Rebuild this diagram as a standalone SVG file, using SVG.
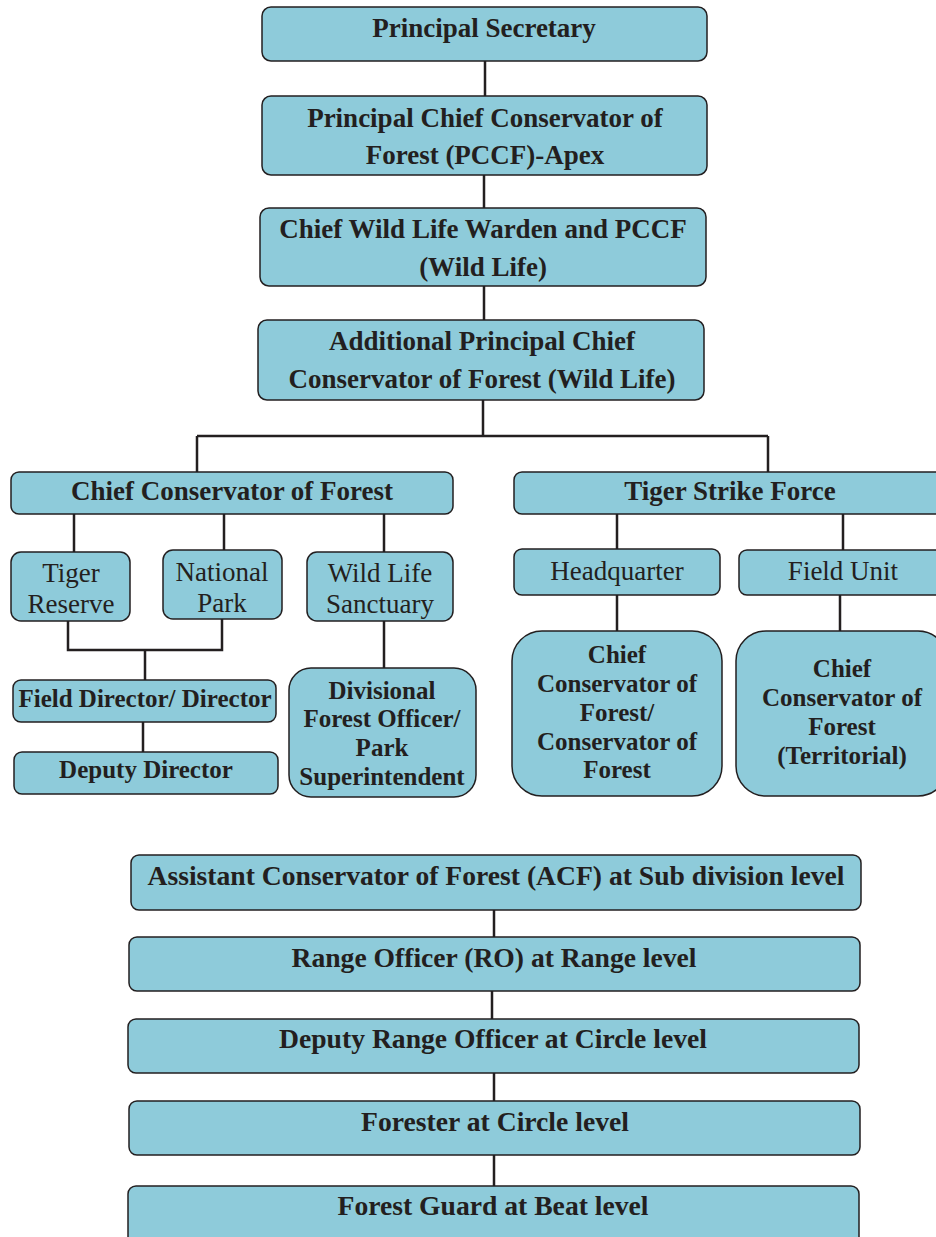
<svg xmlns="http://www.w3.org/2000/svg" width="936" height="1237" viewBox="0 0 936 1237">
<style>
.b{fill:#8ecbda;stroke:#231f20;stroke-width:1.5}
.t{font-family:"Liberation Serif","Times New Roman",serif;fill:#231f20;text-anchor:middle}
.bd{font-weight:bold;font-size:27px}
.bs{font-weight:bold;font-size:25px}
.n{font-weight:normal;font-size:27px}
.c{fill:none;stroke:#231f20;stroke-width:2.5}
</style>
<rect width="936" height="1237" fill="#fff"/>
<g id="connectors">
<path class="c" d="M485 61V96M484 175V208M484 286V320M483 400V436M197 436H768M197 436V472M768 436V472"/>
<path class="c" d="M74 514V552M224 514V550M384 514V552M68 621V650H222V619M145 650V680M143 722V752M384 621V668"/>
<path class="c" d="M617 514V549M843 514V550M617 595V631M840 595V631"/>
<path class="c" d="M494 910V937M492 991V1019M494 1073V1101M494 1155V1186"/>
</g>
<g id="n1"><rect class="b" x="262" y="7" width="445" height="54" rx="9"/><text class="t bd" x="484" y="37">Principal Secretary</text></g>
<g id="n2"><rect class="b" x="262" y="96" width="445" height="79" rx="9"/><text class="t bd" x="485" y="127">Principal Chief Conservator of</text><text class="t bd" x="485" y="164">Forest (PCCF)-Apex</text></g>
<g id="n3"><rect class="b" x="260" y="208" width="446" height="78" rx="9"/><text class="t bd" x="483" y="238">Chief Wild Life Warden and PCCF</text><text class="t bd" x="483" y="276">(Wild Life)</text></g>
<g id="n4"><rect class="b" x="258" y="320" width="446" height="80" rx="9"/><text class="t bd" x="482" y="350">Additional Principal Chief</text><text class="t bd" x="482" y="388">Conservator of Forest (Wild Life)</text></g>
<g id="n5"><rect class="b" x="11" y="472" width="442" height="42" rx="8"/><text class="t bd" x="232" y="500">Chief Conservator of Forest</text></g>
<g id="n6"><rect class="b" x="514" y="472" width="440" height="42" rx="8"/><text class="t bd" x="730" y="500">Tiger Strike Force</text></g>
<g id="n7"><rect class="b" x="11" y="552" width="119" height="69" rx="10"/><text class="t n" x="71" y="582">Tiger</text><text class="t n" x="71" y="613">Reserve</text></g>
<g id="n8"><rect class="b" x="163" y="550" width="119" height="69" rx="10"/><text class="t n" x="222" y="581">National</text><text class="t n" x="222" y="612">Park</text></g>
<g id="n9"><rect class="b" x="307" y="552" width="146" height="69" rx="10"/><text class="t n" x="380" y="582">Wild Life</text><text class="t n" x="380" y="613">Sanctuary</text></g>
<g id="n10"><rect class="b" x="13" y="680" width="263" height="42" rx="8"/><text class="t bs" x="145" y="707">Field Director/ Director</text></g>
<g id="n11"><rect class="b" x="14" y="752" width="264" height="42" rx="8"/><text class="t bs" x="146" y="778">Deputy Director</text></g>
<g id="n12"><rect class="b" x="289" y="668" width="187" height="129" rx="22"/><text class="t bs" x="382" y="699">Divisional</text><text class="t bs" x="382" y="727">Forest Officer/</text><text class="t bs" x="382" y="756">Park</text><text class="t bs" x="382" y="785">Superintendent</text></g>
<g id="n13"><rect class="b" x="514" y="549" width="206" height="46" rx="8"/><text class="t n" x="617" y="580">Headquarter</text></g>
<g id="n14"><rect class="b" x="739" y="550" width="215" height="45" rx="8"/><text class="t n" x="843" y="580">Field Unit</text></g>
<g id="n15"><rect class="b" x="512" y="631" width="210" height="165" rx="30"/><text class="t bs" x="617" y="663">Chief</text><text class="t bs" x="617" y="692">Conservator of</text><text class="t bs" x="617" y="721">Forest/</text><text class="t bs" x="617" y="750">Conservator of</text><text class="t bs" x="617" y="778">Forest</text></g>
<g id="n16"><rect class="b" x="736" y="631" width="212" height="165" rx="30"/><text class="t bs" x="842" y="677">Chief</text><text class="t bs" x="842" y="706">Conservator of</text><text class="t bs" x="842" y="735">Forest</text><text class="t bs" x="842" y="764">(Territorial)</text></g>
<g id="n17"><rect class="b" x="131" y="855" width="730" height="55" rx="8"/><text class="t bd" x="496" y="885" textLength="697" lengthAdjust="spacingAndGlyphs">Assistant Conservator of Forest (ACF) at Sub division level</text></g>
<g id="n18"><rect class="b" x="129" y="937" width="731" height="54" rx="8"/><text class="t bd" x="494" y="967" textLength="405" lengthAdjust="spacingAndGlyphs">Range Officer (RO) at Range level</text></g>
<g id="n19"><rect class="b" x="128" y="1019" width="731" height="54" rx="8"/><text class="t bd" x="493" y="1048" textLength="428" lengthAdjust="spacingAndGlyphs">Deputy Range Officer at Circle level</text></g>
<g id="n20"><rect class="b" x="129" y="1101" width="731" height="54" rx="8"/><text class="t bd" x="495" y="1131" textLength="268" lengthAdjust="spacingAndGlyphs">Forester at Circle level</text></g>
<g id="n21"><rect class="b" x="128" y="1186" width="731" height="60" rx="8"/><text class="t bd" x="493" y="1215" textLength="311" lengthAdjust="spacingAndGlyphs">Forest Guard at Beat level</text></g>
</svg>
